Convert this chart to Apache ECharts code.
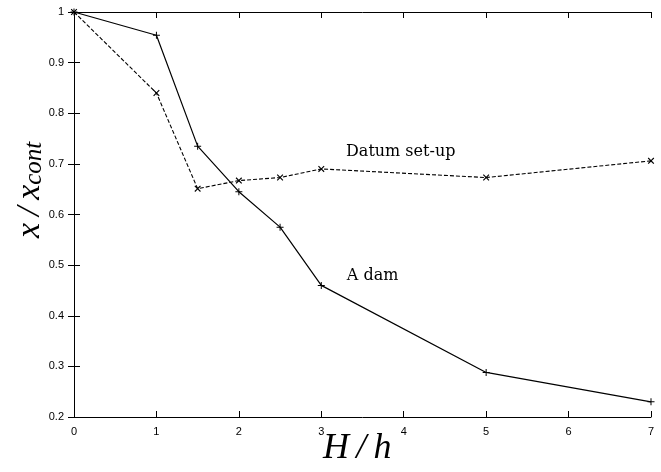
<!DOCTYPE html>
<html>
<head>
<meta charset="utf-8">
<script src="https://cdn.jsdelivr.net/npm/echarts@6/dist/echarts.min.js"></script>
<style>
  html, body { margin: 0; padding: 0; background: #fff; }
  #main { width: 661px; height: 472px; }
</style>
</head>
<body>
<div id="main"></div>
<script>
// H/h values
var hRatio = [0, 1, 1.5, 2, 2.5, 3, 5, 7];
// x/x_cont for the dam case
var damValues = [1, 0.954, 0.735, 0.645, 0.575, 0.46, 0.288, 0.23];
// x/x_cont for the datum set-up case
var datumValues = [1, 0.84, 0.651, 0.667, 0.673, 0.69, 0.673, 0.706];
var seriesNames = ['A dam', 'Datum set-up'];

function pairs(xs, ys) {
  return xs.map(function (x, i) { return [x, ys[i]]; });
}

// plus marker (x marker is the same rotated 45deg)
var plusPath = 'path://M3,0h1v3h3v1h-3v3h-1v-3h-3v-1h3z';

var chart = echarts.init(document.getElementById('main'));

var tickStyle = { show: true, inside: true, length: 6, lineStyle: { color: '#000', width: 1 } };
var lineStyleAxis = { show: true, lineStyle: { color: '#000', width: 1 } };
var labelFont = { color: '#000', fontFamily: 'Liberation Sans', fontSize: 11 };
var textFont = 'DejaVu Serif';
var thin = '\u2009';

chart.setOption({
  animation: false,
  backgroundColor: '#fff',
  grid: { left: 74, right: 10, top: 12, bottom: 55 },
  xAxis: [{
    type: 'value', min: 0, max: 7, interval: 1,
    axisLine: lineStyleAxis, axisTick: tickStyle,
    axisLabel: Object.assign({ margin: 9 }, labelFont),
    splitLine: { show: false }
  }, {
    type: 'value', position: 'top', min: 0, max: 7, interval: 1,
    axisLine: lineStyleAxis, axisTick: tickStyle,
    axisLabel: { show: false }, splitLine: { show: false }
  }],
  yAxis: [{
    type: 'value', min: 0.2, max: 1, interval: 0.1,
    axisLine: lineStyleAxis, axisTick: tickStyle,
    axisLabel: Object.assign({ margin: 10 }, labelFont),
    splitLine: { show: false }
  }, {
    type: 'value', position: 'right', min: 0.2, max: 1, interval: 0.1,
    axisLine: lineStyleAxis, axisTick: tickStyle,
    axisLabel: { show: false }, splitLine: { show: false }
  }],
  series: [{
    name: seriesNames[0],
    type: 'line',
    data: pairs(hRatio, damValues),
    symbol: plusPath,
    symbolSize: 7,
    itemStyle: { color: '#000' },
    lineStyle: { color: '#000', width: 1.2 },
    markPoint: {
      symbolSize: 0,
      data: [{ coord: [3.31, 0.478], label: { show: true, position: 'right', distance: 0,
        formatter: seriesNames[0], color: '#000', fontFamily: textFont, fontSize: 16 } }]
    }
  }, {
    name: seriesNames[1],
    type: 'line',
    data: pairs(hRatio, datumValues),
    symbol: plusPath,
    symbolRotate: 45,
    symbolSize: 8,
    itemStyle: { color: '#000' },
    lineStyle: { color: '#000', width: 1.1, type: [4, 2] },
    markPoint: {
      symbolSize: 0,
      data: [{ coord: [3.3, 0.723], label: { show: true, position: 'right', distance: 0,
        formatter: seriesNames[1], color: '#000', fontFamily: textFont, fontSize: 16 } }]
    }
  }],
  graphic: [{
    type: 'text',
    left: 323, top: 431,
    style: {
      text: 'H' + thin + '/' + thin + 'h',
      fill: '#000',
      font: 'italic 36px "Liberation Serif"'
    }
  }, {
    type: 'text',
    x: 12, y: 238,
    rotation: Math.PI / 2,
    style: {
      text: '{m|x' + thin + '/' + thin + 'x}{s|cont}',
      fill: '#000',
      rich: {
        m: { fontFamily: 'Liberation Serif', fontStyle: 'italic', fontSize: 34, verticalAlign: 'bottom' },
        s: { fontFamily: 'Liberation Serif', fontStyle: 'italic', fontSize: 25, verticalAlign: 'bottom', padding: [10, 0, 0, 0] }
      }
    }
  }]
});
</script>
</body>
</html>
